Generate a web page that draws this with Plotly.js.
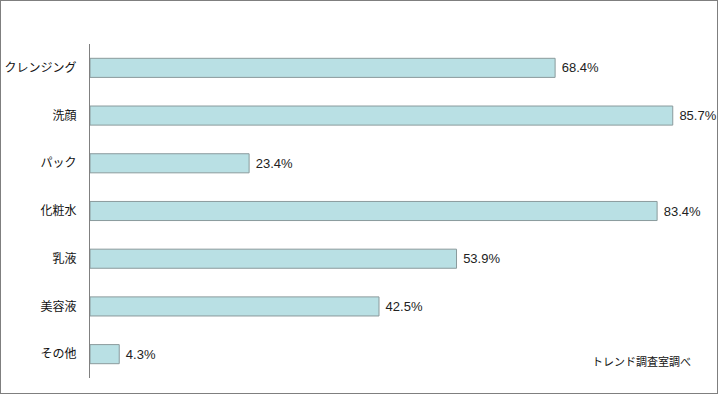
<!DOCTYPE html>
<html><head><meta charset="utf-8">
<script src="https://cdn.plot.ly/plotly-3.0.1.min.js"></script>
<style>
html,body{margin:0;padding:0;background:#fff;}
#wrap{width:716px;height:392px;border:1px solid #7f7f7f;overflow:hidden;}
#chart{width:716px;height:392px;}
</style></head>
<body><div id="wrap"><div id="chart"></div></div>
<script>
const categories = ["クレンジング","洗顔","パック","化粧水","乳液","美容液","その他"];
const values = [68.4, 85.7, 23.4, 83.4, 53.9, 42.5, 4.3];
const labels = values.map(v => " " + v.toFixed(1) + "%");
const source = "トレンド調査室調べ";

const trace = {
  type: "bar",
  orientation: "h",
  y: categories,
  x: values,
  text: labels,
  textposition: "outside",
  cliponaxis: false,
  textfont: {family: "Liberation Sans, Arial, sans-serif", size: 13, color: "#222"},
  marker: {color: "#b9e0e4", line: {color: "#8a9a9c", width: 1}},
  width: 0.4,
  hoverinfo: "none"
};

const layout = {
  width: 716, height: 392,
  margin: {l: 89, r: 15, t: 43, b: 15},
  paper_bgcolor: "#fff", plot_bgcolor: "#fff",
  showlegend: false,
  bargap: 0.6,
  xaxis: {range: [0, 90], showgrid: false, zeroline: false, showline: false,
          showticklabels: false, ticks: "", fixedrange: true},
  yaxis: {autorange: "reversed", showgrid: false, zeroline: false,
          showline: true, linecolor: "#808080", linewidth: 1, ticks: "",
          ticklabelstandoff: 10,
          tickfont: {family: "Noto Sans CJK JP, sans-serif", size: 12, color: "#111"},
          fixedrange: true},
  annotations: [{
    text: source, xref: "paper", yref: "paper", x: 0.985, y: 0.05,
    xanchor: "right", yanchor: "middle", showarrow: false,
    font: {family: "Noto Sans CJK JP, sans-serif", size: 11, color: "#111"}
  }]
};

Plotly.newPlot("chart", [trace], layout, {displayModeBar: false, staticPlot: true});
</script></body></html>
